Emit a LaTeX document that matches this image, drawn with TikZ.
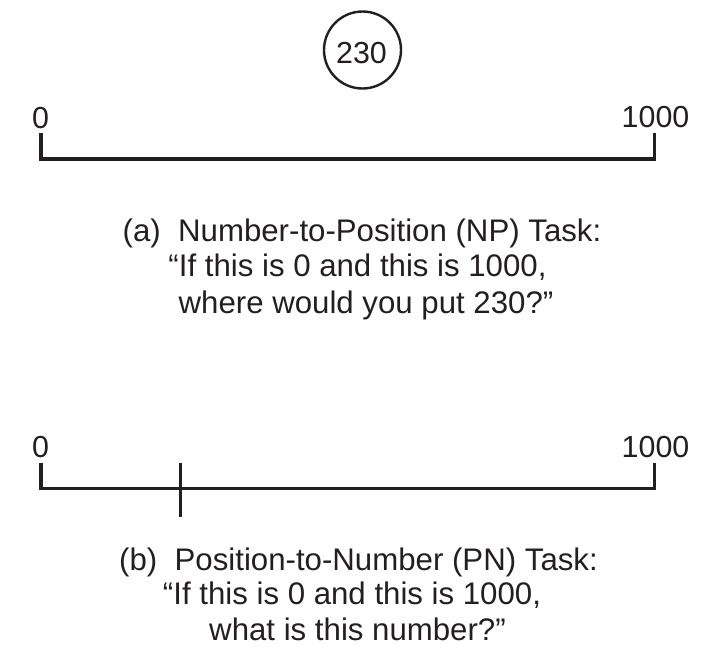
\documentclass[tikz,border=0pt]{standalone}
\usepackage{fontspec}
\setmainfont{Liberation Sans}
\definecolor{ink}{HTML}{231F20}
\begin{document}
\begin{tikzpicture}[x=1pt,y=-1pt,
  txt/.style={anchor=base,inner sep=0pt,text=ink,font=\fontsize{31.2}{36}\selectfont},
  lab/.style={anchor=base,inner sep=0pt,text=ink,font=\fontsize{30.4}{36}\selectfont},
  axis/.style={draw=ink,line width=3.3pt,line join=miter,line cap=butt},
  ring/.style={circle,draw=ink,line width=2.4pt,minimum size=77pt,inner sep=0pt}]
\useasboundingbox (0,0) rectangle (711,646);
% (a)
\node[ring] (circ) at (362.5,50) {};
\node[lab] (num) at (361.5,63.3) {230};
\node[lab] (a0lab) at (40.5,128) {0};
\node[lab] (a1lab) at (655.5,127.5) {1000};
\coordinate (a0t) at (41,133);
\coordinate (a0) at (41,159);
\coordinate (a1) at (654.7,159);
\coordinate (a1t) at (654.7,133);
\draw[axis] (a0t) -- (a0) -- (a1) -- (a1t);
\node[txt] (at1) at (362,241.7) {(a)\ \ Number-to-Position (NP) Task:};
\node[txt] (at2) at (357.5,276.7) {“If this is 0 and this is 1000,};
\node[txt] (at3) at (366,313.3) {where would you put 230?”};
% (b)
\node[lab] (b0lab) at (40.5,457) {0};
\node[lab] (b1lab) at (655.5,457) {1000};
\coordinate (b0t) at (41,462.5);
\coordinate (b0) at (41,488.4);
\coordinate (b1) at (654.5,488.4);
\coordinate (b1t) at (654.5,462.5);
\draw[axis] (b0t) -- (b0) -- (b1) -- (b1t);
\coordinate (mt) at (180.5,462.7);
\coordinate (mb) at (180.5,516.7);
\draw[axis] (mt) -- (mb);
\node[txt] (bt1) at (358.5,570) {(b)\ \ Position-to-Number (PN) Task:};
\node[txt] (bt2) at (352,604.5) {“If this is 0 and this is 1000,};
\node[txt] (bt3) at (357.5,640) {what is this number?”};
\end{tikzpicture}
\end{document}
